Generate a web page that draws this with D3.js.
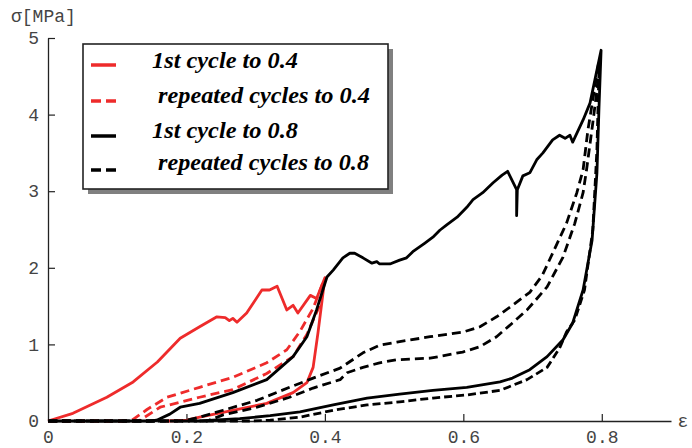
<!DOCTYPE html>
<html><head><meta charset="utf-8">
<script src="https://cdn.jsdelivr.net/npm/d3@7"></script>
<style>
html,body{margin:0;padding:0;background:#fff;}
svg{display:block;}
</style></head>
<body>
<svg id="chart" width="692" height="448"></svg>
<script>
// ---- data (strain ε, stress σ in MPa) ----
const xTickValues = [0, 0.2, 0.4, 0.6, 0.8];
const xTickLabels = ["0", "0.2", "0.4", "0.6", "0.8"];
const yTickValues = [0, 1, 2, 3, 4, 5];
const yTickLabels = ["0", "1", "2", "3", "4", "5"];

const legendLabels = ["1st cycle to 0.4", "repeated cycles to 0.4", "1st cycle to 0.8", "repeated cycles to 0.8"];

const red1stCycle = [[0,0],[0.036,0.10],[0.085,0.31],[0.123,0.51],[0.158,0.77],[0.191,1.08],[0.219,1.23],[0.244,1.36],[0.256,1.35],[0.262,1.31],[0.267,1.34],[0.273,1.29],[0.287,1.41],[0.309,1.71],[0.320,1.71],[0.331,1.76],[0.345,1.45],[0.354,1.51],[0.361,1.41],[0.379,1.64],[0.388,1.60],[0.400,1.87],[0.396,1.58],[0.390,1.15],[0.383,0.70],[0.374,0.50],[0.354,0.37],[0.316,0.23],[0.267,0.14],[0.219,0.05],[0.201,0.01],[0.17,0]];

const redRepeatedA = [[0,0],[0.108,0],[0.123,0.02],[0.143,0.15],[0.172,0.31],[0.219,0.44],[0.267,0.57],[0.316,0.76],[0.345,0.93],[0.364,1.17],[0.383,1.47],[0.397,1.80]];
const redRepeatedB = [[0,0],[0.123,0],[0.133,0.01],[0.162,0.18],[0.219,0.31],[0.267,0.41],[0.316,0.62],[0.354,0.84],[0.374,1.13],[0.393,1.52],[0.399,1.80]];

const black1stCycle = [[0,0],[0.147,0],[0.157,0.01],[0.176,0.09],[0.191,0.18],[0.219,0.23],[0.267,0.37],[0.316,0.54],[0.354,0.84],[0.374,1.10],[0.388,1.45],[0.397,1.71],[0.403,1.88],[0.412,1.97],[0.426,2.13],[0.436,2.19],[0.443,2.19],[0.455,2.13],[0.468,2.06],[0.475,2.08],[0.479,2.05],[0.494,2.05],[0.508,2.10],[0.518,2.13],[0.527,2.21],[0.544,2.32],[0.556,2.40],[0.566,2.49],[0.576,2.56],[0.591,2.66],[0.605,2.79],[0.614,2.89],[0.628,2.98],[0.643,3.11],[0.656,3.21],[0.664,3.26],[0.677,3.02],[0.677,2.68],[0.678,3.02],[0.686,3.20],[0.696,3.24],[0.706,3.41],[0.715,3.50],[0.729,3.67],[0.739,3.73],[0.747,3.69],[0.754,3.73],[0.758,3.64],[0.773,3.93],[0.783,4.15],[0.799,4.84],[0.796,4.10],[0.793,3.24],[0.786,2.36],[0.773,1.71],[0.758,1.28],[0.744,1.06],[0.721,0.84],[0.696,0.67],[0.671,0.56],[0.653,0.51],[0.605,0.44],[0.556,0.40],[0.508,0.35],[0.461,0.30],[0.412,0.21],[0.364,0.12],[0.321,0.07],[0.277,0.03],[0.219,0]];

const blackRepeatedA = [[0,0],[0.195,0],[0.215,0.04],[0.253,0.14],[0.302,0.27],[0.349,0.44],[0.383,0.56],[0.422,0.69],[0.455,0.89],[0.479,0.99],[0.504,1.03],[0.552,1.10],[0.599,1.16],[0.624,1.23],[0.648,1.36],[0.671,1.51],[0.696,1.68],[0.714,1.90],[0.729,2.19],[0.749,2.58],[0.764,2.98],[0.773,3.28],[0.780,3.80],[0.790,4.36],[0.796,4.71]];
const blackRepeatedB = [[0,0],[0.230,0],[0.253,0.08],[0.302,0.18],[0.349,0.31],[0.383,0.43],[0.422,0.54],[0.432,0.63],[0.455,0.70],[0.479,0.76],[0.504,0.80],[0.552,0.82],[0.599,0.90],[0.624,0.97],[0.648,1.10],[0.671,1.28],[0.692,1.45],[0.721,1.75],[0.744,2.14],[0.761,2.58],[0.773,2.98],[0.778,3.28],[0.787,3.89],[0.793,4.32],[0.797,4.69]];
const blackRepeatedUnload = [[0.796,4.58],[0.793,3.54],[0.787,2.49],[0.775,1.71],[0.761,1.32],[0.749,1.16],[0.739,0.95],[0.721,0.70],[0.692,0.54],[0.653,0.40],[0.605,0.34],[0.556,0.30],[0.508,0.25],[0.461,0.21],[0.412,0.14],[0.364,0.05],[0.321,0.01],[0.292,0],[0,0]];

// ---- layout ----
const svg = d3.select("#chart");
const x = d3.scaleLinear().domain([0, 0.9]).range([48, 671]);
const y = d3.scaleLinear().domain([0, 5]).range([421, 38]);

const RED = "#ee2b2b", BLACK = "#000";
const line = d3.line().x(d => x(d[0])).y(d => y(d[1]));

const series = [
  {data: red1stCycle, color: RED, dash: null},
  {data: redRepeatedA, color: RED, dash: "9,5"},
  {data: redRepeatedB, color: RED, dash: "9,5"},
  {data: black1stCycle, color: BLACK, dash: null},
  {data: blackRepeatedA, color: BLACK, dash: "9,5"},
  {data: blackRepeatedB, color: BLACK, dash: "9,5"},
  {data: blackRepeatedUnload, color: BLACK, dash: "8,4"}
];

// axes
const monoFont = "'Liberation Mono', 'DejaVu Sans Mono', monospace";
const xAxis = d3.axisBottom(x).tickValues(xTickValues)
  .tickFormat((d, i) => xTickLabels[i]).tickSizeInner(-7).tickSizeOuter(0).tickPadding(9);
const yAxis = d3.axisLeft(y).tickValues(yTickValues)
  .tickFormat((d, i) => yTickLabels[i]).tickSizeInner(-7).tickSizeOuter(0).tickPadding(9);

const gx = svg.append("g").attr("transform", "translate(0,421)").call(xAxis);
const gy = svg.append("g").attr("transform", "translate(48,0)").call(yAxis);
[gx, gy].forEach(g => {
  g.select(".domain").attr("stroke", "#222").attr("stroke-width", 1.3);
  g.selectAll(".tick line").attr("stroke", "#222").attr("stroke-width", 1.2);
  g.selectAll(".tick text").attr("fill", "#444").style("font-family", monoFont).style("font-size", "18px");
});
gy.selectAll(".tick").filter(d => d === 0).select("line").remove();
gx.selectAll(".tick").filter(d => d === 0).select("line").remove();

// curves
svg.append("g").selectAll("path").data(series).join("path")
  .attr("d", d => line(d.data))
  .attr("fill", "none")
  .attr("stroke", d => d.color)
  .attr("stroke-width", 2.8)
  .attr("stroke-linejoin", "round")
  .attr("stroke-dasharray", d => d.dash);

// axis titles
svg.append("text").attr("x", 11).attr("y", 22)
  .style("font-family", monoFont).style("font-size", "18px").attr("fill", "#444")
  .text("σ[MPa]");
svg.append("text").attr("x", 683).attr("y", 421).attr("dy", "0.35em").attr("text-anchor", "middle")
  .style("font-family", monoFont).style("font-size", "18px").attr("fill", "#444")
  .text("ε");

// legend
const lg = svg.append("g");
lg.append("rect").attr("x", 88).attr("y", 49).attr("width", 305).attr("height", 145).attr("fill", "#808080");
lg.append("rect").attr("x", 83).attr("y", 44).attr("width", 305).attr("height", 145)
  .attr("fill", "#fff").attr("stroke", "#222").attr("stroke-width", 1.6);
const legendItems = [
  {label: legendLabels[0], color: RED, dash: null, ly: 65, ty: 68, tx: 152, w: 146},
  {label: legendLabels[1], color: RED, dash: "10,5", ly: 101, ty: 103, tx: 158, w: 212},
  {label: legendLabels[2], color: BLACK, dash: null, ly: 136, ty: 138, tx: 152, w: 146},
  {label: legendLabels[3], color: BLACK, dash: "10,5", ly: 170, ty: 170, tx: 158, w: 211}
];
legendItems.forEach(it => {
  lg.append("line").attr("x1", 91).attr("x2", 116).attr("y1", it.ly).attr("y2", it.ly)
    .attr("stroke", it.color).attr("stroke-width", 3.5).attr("stroke-dasharray", it.dash);
  lg.append("text").attr("x", it.tx).attr("y", it.ty)
    .attr("textLength", it.w).attr("lengthAdjust", "spacingAndGlyphs")
    .style("font-family", "'Liberation Serif', 'Times New Roman', serif")
    .style("font-size", "23px").style("font-weight", "bold").style("font-style", "italic")
    .attr("fill", "#000").text(it.label);
});
</script>
</body></html>
